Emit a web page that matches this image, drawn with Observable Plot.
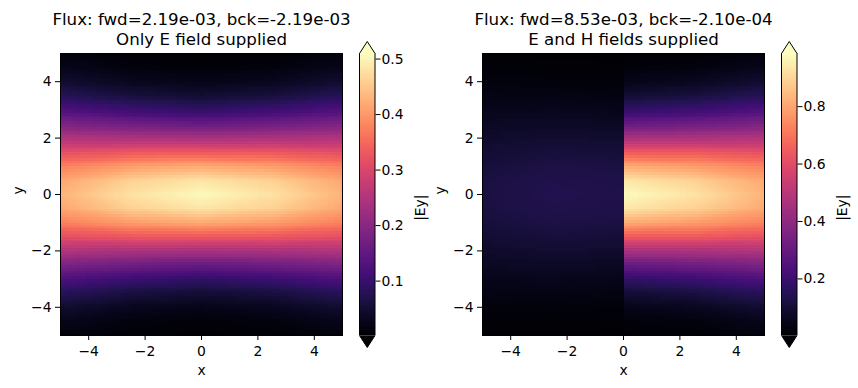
<!DOCTYPE html>
<html><head><meta charset="utf-8">
<script src="https://cdn.jsdelivr.net/npm/d3@7"></script>
<script src="https://cdn.jsdelivr.net/npm/@observablehq/plot@0.6"></script>
<style>
body{margin:0;background:#fff;}
#fig{position:relative;width:858px;height:388px;overflow:hidden;background:#fff;}
.slot{position:absolute;top:0;}
</style></head><body><div id="fig"></div>
<script>
// ---------- data ----------
const axisTicks = [-4, -2, 0, 2, 4];
const yLevels = [-5,-4.5,-4,-3.5,-3,-2.5,-2,-1.5,-1,-0.5,0,0.5,1,1.5,2,2.5,3,3.5,4,4.5,5];

// Left panel: "Only E field supplied"  (|Ey| profile columns, y from -5 to 5)
const leftTitle = ["Flux: fwd=2.19e-03, bck=-2.19e-03", "Only E field supplied"];
const leftColumnX = [-5, -2.5, 0, 2.5, 5];
const leftColXm5 = [0.014,0.027,0.048,0.080,0.125,0.183,0.249,0.316,0.375,0.415,0.430,0.415,0.375,0.316,0.249,0.183,0.125,0.080,0.048,0.027,0.014];
const leftColXm25 = [0.007,0.015,0.031,0.059,0.104,0.167,0.242,0.328,0.404,0.460,0.480,0.460,0.404,0.328,0.242,0.167,0.104,0.059,0.031,0.015,0.007];
const leftColX0 = [0.0045,0.011,0.025,0.050,0.092,0.156,0.237,0.330,0.418,0.482,0.505,0.482,0.418,0.330,0.237,0.156,0.092,0.050,0.025,0.011,0.0045];
const leftColX25 = [0.007,0.015,0.031,0.059,0.104,0.167,0.242,0.328,0.404,0.460,0.480,0.460,0.404,0.328,0.242,0.167,0.104,0.059,0.031,0.015,0.007];
const leftColX5 = [0.014,0.027,0.048,0.080,0.125,0.183,0.249,0.316,0.375,0.415,0.430,0.415,0.375,0.316,0.249,0.183,0.125,0.080,0.048,0.027,0.014];
const leftColorDomain = [0.002, 0.51];
const leftColorTicks = [0.1, 0.2, 0.3, 0.4, 0.5];

// Right panel: "E and H fields supplied"
const rightTitle = ["Flux: fwd=8.53e-03, bck=-2.10e-04", "E and H fields supplied"];
const rightColumnX = [-5, -2.5, -0.05, 0.05, 2.5, 5];
const rightColXm5 = [0.010,0.017,0.027,0.039,0.053,0.068,0.083,0.097,0.109,0.117,0.120,0.117,0.109,0.097,0.083,0.068,0.053,0.039,0.027,0.017,0.010];
const rightColXm25 = [0.008,0.015,0.025,0.038,0.055,0.073,0.092,0.110,0.125,0.136,0.140,0.136,0.125,0.110,0.092,0.073,0.055,0.038,0.025,0.015,0.008];
const rightColXm0 = [0.007,0.013,0.022,0.034,0.050,0.068,0.087,0.105,0.120,0.131,0.135,0.131,0.120,0.105,0.087,0.068,0.050,0.034,0.022,0.013,0.007];
const rightColXp0 = [0.009,0.022,0.048,0.097,0.180,0.300,0.460,0.640,0.810,0.935,0.980,0.935,0.810,0.640,0.460,0.300,0.180,0.097,0.048,0.022,0.009];
const rightColX25 = [0.014,0.029,0.061,0.115,0.200,0.320,0.470,0.640,0.780,0.890,0.930,0.890,0.780,0.640,0.470,0.320,0.200,0.115,0.061,0.029,0.014];
const rightColX5 = [0.027,0.052,0.093,0.155,0.242,0.355,0.483,0.613,0.727,0.805,0.830,0.805,0.727,0.613,0.483,0.355,0.242,0.155,0.093,0.052,0.027];
const rightColorDomain = [0.003, 0.985];
const rightColorTicks = [0.2, 0.4, 0.6, 0.8];

const colorbarLabel = "|Ey|";

// ---------- build sample tables ----------
function samples(colX, cols) {
  const out = [];
  colX.forEach((x, j) => yLevels.forEach((y, i) => out.push({x, y, v: cols[j][i]})));
  return out;
}
const leftSamples = samples(leftColumnX, [leftColXm5, leftColXm25, leftColX0, leftColX25, leftColX5]);
const rightSamples = samples(rightColumnX, [rightColXm5, rightColXm25, rightColXm0, rightColXp0, rightColX25, rightColX5]);

const FS = 13.9, TFS = 16.67;
const baseStyle = {background: "transparent", fontFamily: "DejaVu Sans", fontSize: FS + "px", color: "black", overflow: "visible"};

function heatmap(data, title, domain, width) {
  return Plot.plot({
    width, height: 388, marginLeft: 60, marginRight: width - 60 - 282, marginTop: 53, marginBottom: 53,
    x: {domain: [-5, 5]},
    y: {domain: [-5, 5]},
    color: {type: "linear", scheme: "magma", domain},
    style: baseStyle,
    marks: [
      Plot.raster(data, {x: "x", y: "y", fill: "v", x1: -5, x2: 5, y1: -5, y2: 5,
        width: 100, height: 100, interpolate: "barycentric", imageRendering: "pixelated"}),
      Plot.frame({stroke: "black", strokeWidth: 1}),
      Plot.axisX({ticks: axisTicks, tickFormat: "d", tickSize: 5, tickPadding: 6, label: null, fontSize: FS}),
      Plot.axisY({ticks: axisTicks, tickFormat: "d", tickSize: 5, tickPadding: 4, label: null, fontSize: FS}),
      Plot.text(["x"], {frameAnchor: "bottom", lineAnchor: "middle", dy: 35.5, fontSize: FS, text: d => d}),
      Plot.text(["y"], {frameAnchor: "left", lineAnchor: "middle", dx: -42, rotate: -90, fontSize: FS, text: d => d}),
      Plot.text([title[0]], {frameAnchor: "top", lineAnchor: "middle", dy: -34, fontSize: TFS, text: d => d}),
      Plot.text([title[1]], {frameAnchor: "top", lineAnchor: "middle", dy: -14, fontSize: TFS, text: d => d})
    ]
  });
}

const upArrow = {draw(ctx) { ctx.moveTo(-7.75, 0); ctx.lineTo(0, -12); ctx.lineTo(7.75, 0); }};
const downArrow = {draw(ctx) { ctx.moveTo(-7.75, 0); ctx.lineTo(0, 12); ctx.lineTo(7.75, 0); }};

function colorbar(domain, ticks) {
  return Plot.plot({
    width: 100, height: 388, marginLeft: 17, marginRight: 100 - 17 - 15.5, marginTop: 53, marginBottom: 53,
    x: {domain: [0, 1], axis: null},
    y: {domain, axis: null},
    color: {type: "linear", scheme: "magma", domain},
    style: baseStyle,
    marks: [
      Plot.raster({fill: (x, y) => y, x1: 0, x2: 1, y1: domain[0], y2: domain[1], width: 1, height: 256, imageRendering: "pixelated"}),
      Plot.ruleX([0, 1], {stroke: "black", strokeWidth: 1}),
      Plot.dot([domain[1]], {x: 0.5, y: d => d, symbol: upArrow, fill: d => d, stroke: "black", strokeWidth: 1}),
      Plot.dot([domain[0]], {x: 0.5, y: d => d, symbol: downArrow, fill: d => d, stroke: "black", strokeWidth: 1}),
      Plot.axisY({anchor: "right", ticks, tickFormat: ".1f", tickSize: 5, tickPadding: 1.5, label: null, fontSize: FS}),
      Plot.text([colorbarLabel], {frameAnchor: "right", lineAnchor: "middle", dx: 45.5, rotate: -90, fontSize: FS, text: d => d})
    ]
  });
}

const fig = document.getElementById("fig");
function place(node, left, width) {
  const d = document.createElement("div");
  d.className = "slot";
  d.style.left = left + "px";
  d.style.width = width + "px";
  d.appendChild(node);
  fig.appendChild(d);
}
place(heatmap(leftSamples, leftTitle, leftColorDomain, 350), 0, 350);
place(colorbar(leftColorDomain, leftColorTicks), 342, 100);
place(heatmap(rightSamples, rightTitle, rightColorDomain, 351), 422, 351);
place(colorbar(rightColorDomain, rightColorTicks), 764, 100);
</script>
</body></html>
